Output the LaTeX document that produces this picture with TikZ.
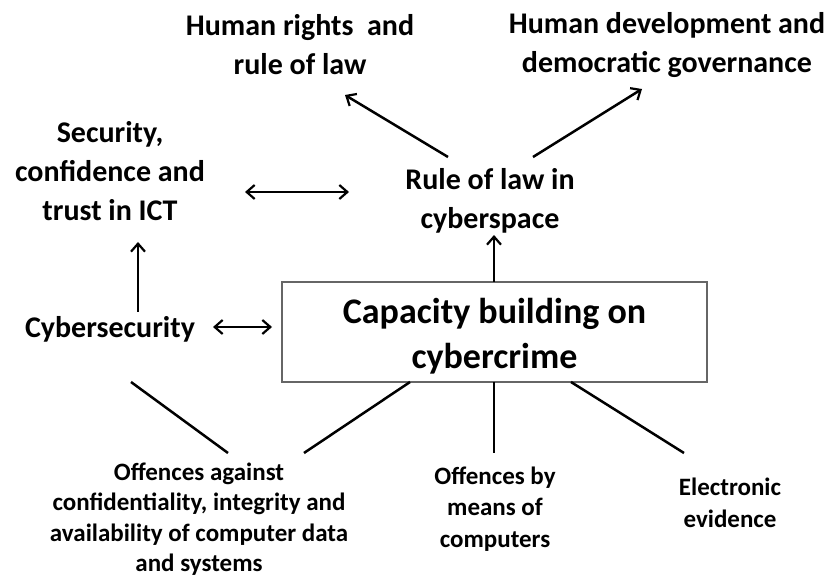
\documentclass[tikz,border=0pt]{standalone}
\usepackage{fontspec}
\setmainfont{Carlito}
\usetikzlibrary{arrows.meta}
\begin{document}
\begin{tikzpicture}[x=1pt,y=-1pt,
  lbl/.style={align=center,inner sep=0pt,font=\bfseries\fontsize{30}{39}\selectfont},
  sml/.style={align=center,inner sep=0pt,font=\bfseries\fontsize{25}{31.5}\selectfont},
  smlb/.style={align=center,inner sep=0pt,font=\bfseries\fontsize{25}{30.5}\selectfont},
  big/.style={align=center,font=\bfseries\fontsize{36}{45}\selectfont},
  conn/.style={line width=2.5pt},
  tip/.tip={Straight Barb[length=8pt,width=14pt,line width=2.2pt]},
  arr/.style={conn,-tip},
  darr/.style={conn,tip-tip}]
\useasboundingbox (0,0) rectangle (839,580);
% nodes
\node[lbl] (hr) at (300,45) {Human rights\ \ and\\rule of law};
\node[lbl] (hd) at (667,45) {Human development and\\democratic governance};
\node[lbl] (sec) at (110,171) {Security,\\confidence and\\trust in ICT};
\node[lbl] (rol) at (490,201) {Rule of law in\\cyberspace};
\node[lbl] (cs) at (110,329) {Cybersecurity};
\node[draw=black!60,line width=1.2pt,minimum width=425pt,minimum height=100pt,inner sep=0pt] (box) at (494.5,332) {};
\node[big,inner sep=0pt] (cap) at (494.5,336) {Capacity building on\\cybercrime};
\node[smlb] (off1) at (199,519) {Offences against\\confidentiality, integrity and\\availability of computer data\\and systems};
\node[sml] (off2) at (495,509) {Offences by\\means of\\computers};
\node[sml] (ev) at (730,503) {Electronic\\evidence};
% free ends
\coordinate (a1s) at (448,157); \coordinate (a1e) at (345,95);
\coordinate (a2s) at (533,157); \coordinate (a2e) at (642,89);
\coordinate (d1s) at (245,192); \coordinate (d1e) at (349,192);
\coordinate (up1s) at (494,282); \coordinate (up1e) at (494,235);
\coordinate (up2s) at (138,312); \coordinate (up2e) at (138,242);
\coordinate (d2s) at (213,327); \coordinate (d2e) at (272,327);
\coordinate (l1s) at (131,382); \coordinate (l1e) at (228,453);
\coordinate (l2s) at (410,382); \coordinate (l2e) at (304,453);
\coordinate (l3s) at (494,382); \coordinate (l3e) at (494,453);
\coordinate (l4s) at (571,382); \coordinate (l4e) at (684,453);
% connectors
\draw[arr] (a1s) -- (a1e);
\draw[arr] (a2s) -- (a2e);
\draw[darr] (d1s) -- (d1e);
\draw[arr] (up1s) -- (up1e);
\draw[arr] (up2s) -- (up2e);
\draw[darr] (d2s) -- (d2e);
\draw[conn] (l1s) -- (l1e);
\draw[conn] (l2s) -- (l2e);
\draw[conn] (l3s) -- (l3e);
\draw[conn] (l4s) -- (l4e);
\end{tikzpicture}
\end{document}
